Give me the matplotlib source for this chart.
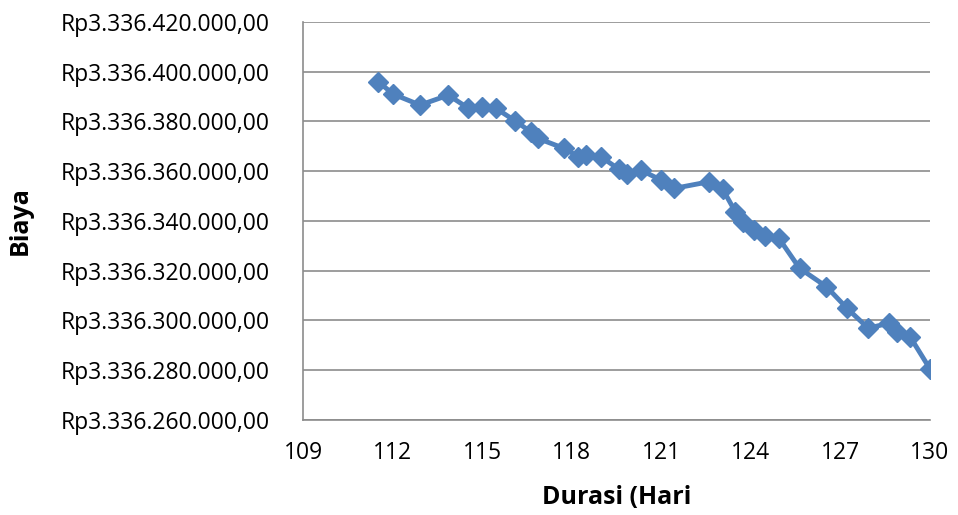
import matplotlib.pyplot as plt
from matplotlib.ticker import FuncFormatter

durasi = [111.52, 112.02, 112.92, 113.87, 114.54, 114.99, 115.46, 116.11, 116.62, 116.87,
          117.74, 118.22, 118.49, 118.97, 119.58, 119.86, 120.31, 120.98, 121.43, 122.61,
          123.05, 123.48, 123.73, 124.12, 124.46, 124.94, 125.63, 126.53, 127.22, 127.93,
          128.62, 128.88, 129.33, 130.0]
biaya = [3336396000, 3336391000, 3336386600, 3336390600, 3336385300, 3336386000, 3336385300,
         3336380200, 3336375900, 3336373200, 3336369200, 3336365900, 3336366500, 3336365900,
         3336360800, 3336358900, 3336360500, 3336356500, 3336353100, 3336355800, 3336352900,
         3336343700, 3336339700, 3336336400, 3336334000, 3336333000, 3336321000, 3336313600,
         3336304900, 3336296900, 3336298900, 3336295500, 3336293500, 3336280500]

xticks = [109, 112, 115, 118, 121, 124, 127, 130]


def rupiah(v, pos):
    s = f"{v:,.2f}"
    s = s.replace(",", "_").replace(".", ",").replace("_", ".")
    return "Rp" + s


plt.rcParams['font.family'] = ['Open Sans', 'DejaVu Sans']

fig = plt.figure(figsize=(9.58, 5.15), dpi=100)
ax = fig.add_axes([0.3163, 0.1845, 0.6545, 0.7728])

ax.plot(durasi, biaya, color='#4F81BD', lw=3.5, marker='D', ms=10.5,
        markerfacecolor='#4F81BD', markeredgecolor='#4F81BD')

ax.set_xlim(109, 130)
ax.set_ylim(3336260000, 3336420000)
ax.set_xticks(xticks)
ax.set_yticks(range(3336260000, 3336420001, 20000))
ax.yaxis.set_major_formatter(FuncFormatter(rupiah))
ax.grid(axis='y', color='#8c8c8c', lw=1.2)
ax.set_axisbelow(True)

for s in ['top', 'right']:
    ax.spines[s].set_visible(False)
for s in ['left', 'bottom']:
    ax.spines[s].set_color('#8c8c8c')
    ax.spines[s].set_linewidth(1.2)
ax.tick_params(axis='both', colors='#8c8c8c', labelcolor='black', labelsize=16.5, length=0)
ax.tick_params(axis='y', pad=24)
ax.tick_params(axis='x', pad=15)

ax.set_xlabel('Durasi (Hari', fontsize=18, fontweight='bold')
ax.set_ylabel('Biaya', fontsize=18, fontweight='bold')
ax.xaxis.set_label_coords(0.5, -0.163)
ax.yaxis.set_label_coords(-0.431, 0.5)

fig.savefig('out.png', dpi=100)
